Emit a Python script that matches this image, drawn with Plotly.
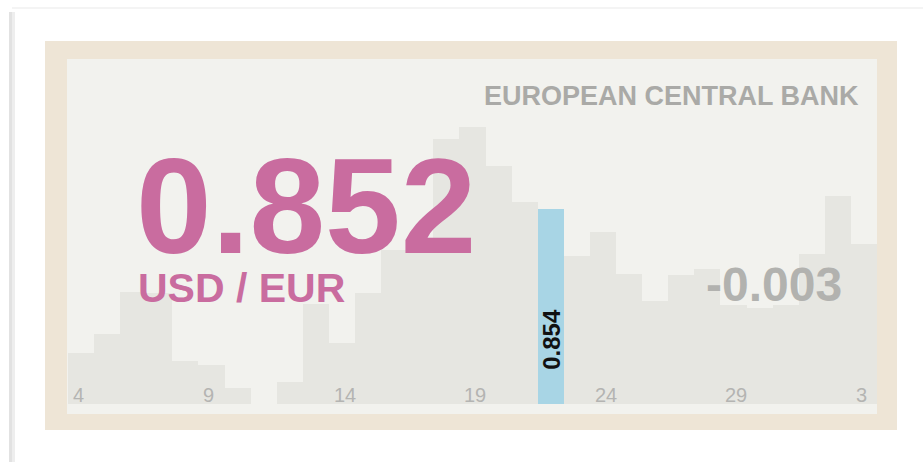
import plotly.graph_objects as go

# Daily USD/EUR reference rates, day-of-month labels
days = [4, 5, 6, 7, 8, 9, 10, 11, 12, 13, 14, 15, 16, 17, 18, 19, 20, 21, 22,
        23, 24, 25, 26, 27, 28, 29, 30, 31, 1, 2, 3]
rates = [0.8444, 0.8457, 0.8485, 0.8484, 0.8439, 0.8436, 0.8421, 0.8410,
         0.8425, 0.8477, 0.8451, 0.8484, 0.8513, 0.8516, 0.8587, 0.8595,
         0.8569, 0.8545, 0.8540, 0.8509, 0.8525, 0.8497, 0.8479, 0.8496,
         0.8500, 0.8476, 0.8474, 0.8476, 0.8510, 0.8549, 0.8517]
tick_days = [4, 9, 14, 19, 24, 29, 3]
highlight_day = 22
pair_label = "USD / EUR"
source_label = "EUROPEAN CENTRAL BANK"

W, H = 923, 462
FONT = "Liberation Sans"
PINK = "#C96C9F"
BAR = "#E6E6E1"
BLUE = "#A8D5E5"


def px(x):
    return x / W


def py(y):
    return 1 - y / H


cats = [str(d) for d in days]
colors = [BLUE if d == highlight_day else BAR for d in days]

latest = rates[-1]
change = rates[-1] - rates[-2]

fig = go.Figure()
fig.add_trace(go.Bar(
    x=cats, y=rates, marker=dict(color=colors, line=dict(width=0)),
    hoverinfo="skip", showlegend=False,
))

shapes = [
    # page shadow strip and faint top edge
    dict(type="rect", xref="paper", yref="paper", x0=px(9), x1=px(12),
         y0=0, y1=py(12), fillcolor="#E2E2E2", line=dict(width=0), layer="below"),
    dict(type="rect", xref="paper", yref="paper", x0=px(12), x1=px(15),
         y0=0, y1=py(12), fillcolor="#EEEEEE", line=dict(width=0), layer="below"),
    dict(type="rect", xref="paper", yref="paper", x0=px(12), x1=1,
         y0=py(9), y1=py(7), fillcolor="#F4F4F4", line=dict(width=0), layer="below"),
    # card border
    dict(type="rect", xref="paper", yref="paper", x0=px(45), x1=px(897),
         y0=py(430), y1=py(41), fillcolor="#EEE5D6", line=dict(width=0), layer="below"),
    # card panel
    dict(type="rect", xref="paper", yref="paper", x0=px(67), x1=px(877),
         y0=py(414), y1=py(59), fillcolor="#F2F2EE", line=dict(width=0), layer="below"),
]

annotations = []
# day labels along the base of the bars
for d in tick_days:
    i = days.index(d)
    annotations.append(dict(
        x=i - 0.5, xref="x", xshift=3, y=py(395), yref="paper",
        text=str(d), showarrow=False, xanchor="left", yanchor="middle",
        font=dict(family=FONT, size=20, color="#B4B4B2"),
    ))

# value label on highlighted bar
hi = days.index(highlight_day)
annotations.append(dict(
    x=hi, xref="x", y=py(339), yref="paper", text=f"{rates[hi]:.3f}",
    showarrow=False, textangle=-90, xanchor="center", yanchor="middle",
    font=dict(family=FONT, size=24, color="#111111", weight="bold"),
))

annotations += [
    dict(x=px(134), y=py(206), xref="paper", yref="paper", text=f"{latest:.3f}",
         showarrow=False, xanchor="left", yanchor="middle",
         font=dict(family=FONT, size=136, color=PINK, weight="bold")),
    dict(x=px(136), y=py(288), xref="paper", yref="paper", text=pair_label,
         showarrow=False, xanchor="left", yanchor="middle",
         font=dict(family=FONT, size=41, color=PINK, weight="bold")),
    dict(x=px(844), y=py(284), xref="paper", yref="paper", text=f"{change:.3f}",
         showarrow=False, xanchor="right", yanchor="middle",
         font=dict(family=FONT, size=48, color="#B2B2AF", weight="bold")),
    dict(x=px(861), y=py(96), xref="paper", yref="paper", text=source_label,
         showarrow=False, xanchor="right", yanchor="middle",
         font=dict(family=FONT, size=27, color="#AAAAA7", weight="bold")),
]

# vertical scale: 15 px per 0.001, bar base at 0.841
y0 = 0.841
yr = [y0, y0 + (404 - 60) / 15000]

fig.update_layout(
    width=W, height=H, margin=dict(l=0, r=0, t=0, b=0),
    paper_bgcolor="white", plot_bgcolor="rgba(0,0,0,0)",
    bargap=0, shapes=shapes, annotations=annotations,
    xaxis=dict(domain=[px(68), px(877)], visible=False, type="category",
               range=[-0.5, len(days) - 0.5], fixedrange=True),
    yaxis=dict(domain=[py(404), py(60)], visible=False, range=yr, fixedrange=True),
)

fig.write_html("out.html", config=dict(displayModeBar=False))
